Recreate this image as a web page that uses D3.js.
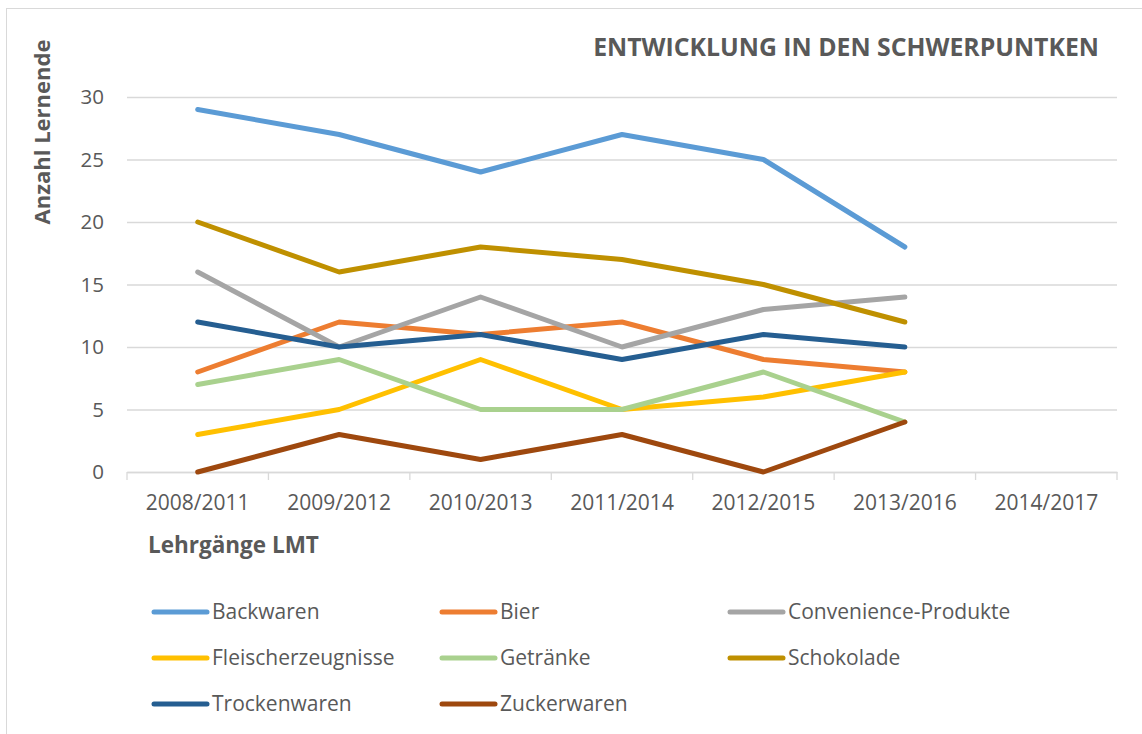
<!DOCTYPE html>
<html>
<head>
<meta charset="utf-8">
<script src="https://cdn.jsdelivr.net/npm/d3@7"></script>
<style>
  body { margin: 0; background: #fff; }
  text { font-family: "Open Sans", sans-serif; fill: #595959; }
</style>
</head>
<body>
<div id="chart"></div>
<script>
// Lehrgänge (categories) and series
const courses = ["2008/2011", "2009/2012", "2010/2013", "2011/2014", "2012/2015", "2013/2016", "2014/2017"];
const seriesNames = ["Backwaren", "Bier", "Convenience-Produkte", "Fleischerzeugnisse", "Getränke", "Schokolade", "Trockenwaren", "Zuckerwaren"];
const backwaren = [29, 27, 24, 27, 25, 18];
const bier = [8, 12, 11, 12, 9, 8];
const convenience = [16, 10, 14, 10, 13, 14];
const fleisch = [3, 5, 9, 5, 6, 8];
const getraenke = [7, 9, 5, 5, 8, 4];
const schokolade = [20, 16, 18, 17, 15, 12];
const trocken = [12, 10, 11, 9, 11, 10];
const zucker = [0, 3, 1, 3, 0, 4];
const yTicks = [0, 5, 10, 15, 20, 25, 30];
const colors = ["#5B9BD5", "#ED7D31", "#A5A5A5", "#FFC000", "#A9D18E", "#BF9000", "#255E91", "#9E480E"];

const values = [backwaren, bier, convenience, fleisch, getraenke, schokolade, trocken, zucker];
const series = seriesNames.map((name, i) => ({ name, color: colors[i], values: values[i] }));

const width = 1142, height = 734,
    margin = ({ top: 97, right: 25, bottom: 262, left: 127 });

const svg = d3.select("#chart")
    .append("svg")
    .attr("width", width)
    .attr("height", height);

// chart frame (only top and left edges are inside the picture)
svg.append("rect")
    .attr("x", 6.5).attr("y", 8.5)
    .attr("width", width + 10).attr("height", height + 10)
    .attr("fill", "none")
    .attr("stroke", "#d9d9d9");

let x = d3.scaleBand()
    .domain(courses)
    .range([margin.left, width - margin.right]);

let y = d3.scaleLinear()
    .domain([0, 30])
    .range([472, margin.top]);

// y-axis: gridlines + labels
svg.append("g")
    .attr("class", "y-axis")
    .attr("transform", `translate(${margin.left},0)`)
    .call(d3.axisLeft(y).tickValues(yTicks).tickSize(-(x.range()[1] - margin.left)).tickPadding(23))
    .call(g => g.select(".domain").remove())
    .call(g => g.selectAll(".tick line").attr("stroke", "#d9d9d9").attr("stroke-width", 1.3))
    .call(g => g.selectAll(".tick text").style("font-size", "20.5px").attr("fill", "#595959"));

// x-axis
svg.append("g")
    .attr("class", "x-axis")
    .attr("transform", `translate(0,${y(0)})`)
    .call(d3.axisBottom(x).tickSize(0).tickPadding(23).tickSizeOuter(0))
    .call(g => g.select(".domain").attr("stroke", "#d9d9d9").attr("stroke-width", 1.3))
    .call(g => g.selectAll(".tick text").style("font-size", "21px").attr("fill", "#595959"));

// category separator ticks
svg.append("g")
    .selectAll("line")
    .data(courses.concat([null]))
    .join("line")
    .attr("x1", (d, i) => margin.left + i * x.bandwidth())
    .attr("x2", (d, i) => margin.left + i * x.bandwidth())
    .attr("y1", y(0))
    .attr("y2", y(0) + 8)
    .attr("stroke", "#d9d9d9")
    .attr("stroke-width", 1.3);

let line = d3.line()
    .x((d, i) => x(courses[i]) + x.bandwidth() / 2)
    .y(d => y(d));

svg.append("g")
    .selectAll("path")
    .data(series)
    .join("path")
    .attr("d", d => line(d.values))
    .attr("fill", "none")
    .attr("stroke", d => d.color)
    .attr("stroke-width", 5)
    .attr("stroke-linecap", "round")
    .attr("stroke-linejoin", "round");

// title
svg.append("text")
    .attr("x", 1099)
    .attr("y", 56)
    .attr("text-anchor", "end")
    .style("font-size", "24.8px")
    .style("font-weight", "bold")
    .text("ENTWICKLUNG IN DEN SCHWERPUNTKEN");

// axis titles
svg.append("text")
    .attr("transform", "rotate(-90)")
    .attr("x", -132)
    .attr("y", 50)
    .attr("text-anchor", "middle")
    .style("font-size", "22px")
    .style("font-weight", "bold")
    .text("Anzahl Lernende");

svg.append("text")
    .attr("x", 148)
    .attr("y", 553)
    .style("font-size", "22.5px")
    .style("font-weight", "bold")
    .text("Lehrgänge LMT");

// legend
const legend = svg.append("g")
    .selectAll("g")
    .data(series)
    .join("g")
    .attr("transform", (d, i) => `translate(${154 + (i % 3) * 288},${612 + Math.floor(i / 3) * 46})`);

legend.append("line")
    .attr("x1", 0).attr("x2", 53)
    .attr("stroke", d => d.color)
    .attr("stroke-width", 5)
    .attr("stroke-linecap", "round");

legend.append("text")
    .attr("x", 58)
    .attr("dy", "0.35em")
    .style("font-size", "21px")
    .text(d => d.name);
</script>
</body>
</html>
